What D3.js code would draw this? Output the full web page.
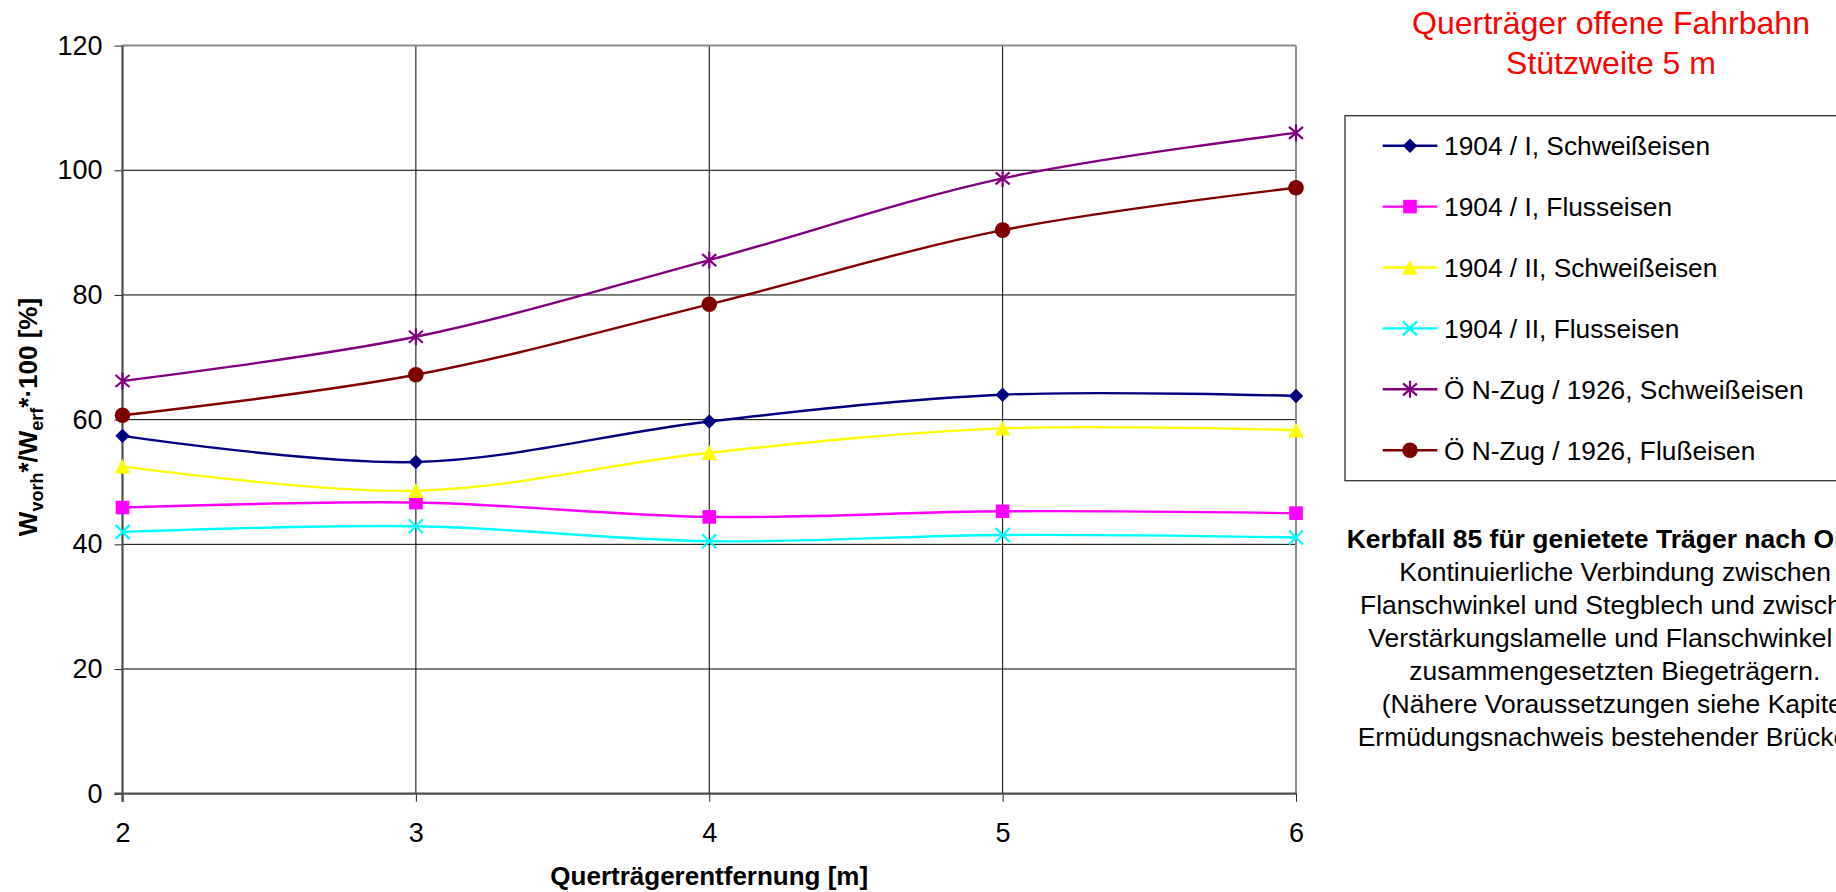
<!DOCTYPE html>
<html>
<head>
<meta charset="utf-8">
<script src="https://cdn.jsdelivr.net/npm/d3@7/dist/d3.min.js"></script>
<style>
  html, body { margin: 0; padding: 0; background: #fff; overflow: hidden; }
  svg { display: block; font-family: "Liberation Sans", Arial, Helvetica, sans-serif; }
</style>
</head>
<body>
<script>
// ---------------- data ----------------
const categories = [2, 3, 4, 5, 6];
const s1904I_Schweiss  = [57.4, 53.2, 59.7, 64.0, 63.8];
const s1904I_Fluss     = [45.9, 46.7, 44.4, 45.3, 45.0];
const s1904II_Schweiss = [52.5, 48.6, 54.7, 58.6, 58.3];
const s1904II_Fluss    = [42.0, 42.9, 40.5, 41.5, 41.1];
const sNZug_Schweiss   = [66.2, 73.3, 85.6, 98.7, 106.0];
const sNZug_Fluss      = [60.7, 67.2, 78.5, 90.4, 97.2];
const seriesNames = [
  "1904 / I, Schweißeisen",
  "1904 / I, Flusseisen",
  "1904 / II, Schweißeisen",
  "1904 / II, Flusseisen",
  "Ö N-Zug / 1926, Schweißeisen",
  "Ö N-Zug / 1926, Flußeisen"
];
const yTickValues = [0, 20, 40, 60, 80, 100, 120];
const xTickValues = [2, 3, 4, 5, 6];
const titleLines = ["Querträger offene Fahrbahn", "Stützweite 5 m"];
const xAxisTitle = "Querträgerentfernung [m]";
const noteLines = [
  "Kerbfall 85 für genietete Träger nach ONR 24008:",
  "Kontinuierliche Verbindung zwischen",
  "Flanschwinkel und Stegblech und zwischen",
  "Verstärkungslamelle und Flanschwinkel bei",
  "zusammengesetzten Biegeträgern.",
  "(Nähere Voraussetzungen siehe Kapitel",
  "Ermüdungsnachweis bestehender Brücken)"
];

// ---------------- styles ----------------
const seriesValues = [s1904I_Schweiss, s1904I_Fluss, s1904II_Schweiss, s1904II_Fluss, sNZug_Schweiss, sNZug_Fluss];
const seriesColors = ["#000080", "#FF00FF", "#FFFF00", "#00FFFF", "#800080", "#800000"];
const seriesMarkers = ["diamond", "square", "triangle", "x", "star", "circle"];

const W = 1836, H = 892;
const svg = d3.select("body").append("svg").attr("width", W).attr("height", H);

const plot = { left: 122.5, right: 1296, top: 45.6, bottom: 793.7 };
const x = d3.scaleLinear().domain([2, 6]).range([plot.left, plot.right]);
const y = d3.scaleLinear().domain([0, 120]).range([plot.bottom, plot.top]);

// gridlines
const grid = svg.append("g");
grid.selectAll("line.h").data(yTickValues.filter(v => v > 0 && v < 120)).enter().append("line")
  .attr("x1", plot.left).attr("x2", plot.right)
  .attr("y1", d => y(d)).attr("y2", d => y(d))
  .attr("stroke", "#000").attr("stroke-width", 1);
grid.selectAll("line.v").data(xTickValues.filter(v => v > 2 && v < 6)).enter().append("line")
  .attr("x1", d => x(d)).attr("x2", d => x(d))
  .attr("y1", plot.top).attr("y2", plot.bottom)
  .attr("stroke", "#000").attr("stroke-width", 1);

// plot border top / right
svg.append("line").attr("x1", plot.left).attr("x2", plot.right).attr("y1", plot.top).attr("y2", plot.top)
  .attr("stroke", "#8c8c8c").attr("stroke-width", 2);
svg.append("line").attr("x1", plot.right).attr("x2", plot.right).attr("y1", plot.top).attr("y2", plot.bottom)
  .attr("stroke", "#8c8c8c").attr("stroke-width", 2);

// axes
const yAxis = d3.axisLeft(y).tickValues(yTickValues).tickSize(8).tickPadding(12).tickFormat(d3.format("d"));
const gy = svg.append("g").attr("transform", `translate(${plot.left},0)`).call(yAxis);
gy.select(".domain").remove();
gy.selectAll(".tick line").attr("stroke", "#222").attr("stroke-width", 1);
gy.selectAll(".tick text").attr("font-size", 27).attr("fill", "#000")
  .attr("font-family", "'Liberation Sans', Arial, sans-serif");

const xAxis = d3.axisBottom(x).tickValues(xTickValues).tickSize(8).tickPadding(21).tickFormat(d3.format("d"));
const gx = svg.append("g").attr("transform", `translate(0,${plot.bottom})`).call(xAxis);
gx.select(".domain").remove();
gx.selectAll(".tick line").attr("stroke", "#222").attr("stroke-width", 1);
gx.selectAll(".tick text").attr("font-size", 27).attr("fill", "#000")
  .attr("font-family", "'Liberation Sans', Arial, sans-serif");

// axis lines (drawn over gridlines)
svg.append("line").attr("x1", plot.left).attr("x2", plot.left).attr("y1", plot.top).attr("y2", plot.bottom + 8)
  .attr("stroke", "#4d4d4d").attr("stroke-width", 2.2);
svg.append("line").attr("x1", plot.left - 8).attr("x2", plot.right).attr("y1", plot.bottom).attr("y2", plot.bottom)
  .attr("stroke", "#4d4d4d").attr("stroke-width", 2.2);

// ---------------- markers ----------------
function drawMarker(g, type, color) {
  switch (type) {
    case "diamond":
      g.append("path").attr("d", "M0,-7.2L7.2,0L0,7.2L-7.2,0Z").attr("fill", color);
      break;
    case "square":
      g.append("rect").attr("x", -6.8).attr("y", -6.8).attr("width", 13.6).attr("height", 13.6).attr("fill", color);
      break;
    case "triangle":
      g.append("path").attr("d", "M0,-7.6L7.6,7.2L-7.6,7.2Z").attr("fill", color);
      break;
    case "circle":
      g.append("circle").attr("r", 7.8).attr("fill", color);
      break;
    case "x":
      g.append("path").attr("d", "M-7,-7L7,7M-7,7L7,-7").attr("stroke", color).attr("stroke-width", 2.2).attr("fill", "none");
      break;
    case "star":
      g.append("path").attr("d", "M-7,-6L7,6M-7,6L7,-6M0,-8.5L0,8.5").attr("stroke", color).attr("stroke-width", 2.2).attr("fill", "none");
      break;
  }
}

// ---------------- series ----------------
const line = d3.line().x(d => x(d.x)).y(d => y(d.y)).curve(d3.curveCardinal.tension(0));
seriesValues.forEach((vals, i) => {
  const pts = categories.map((c, k) => ({ x: c, y: vals[k] }));
  const g = svg.append("g");
  g.append("path").datum(pts).attr("d", line)
    .attr("fill", "none").attr("stroke", seriesColors[i]).attr("stroke-width", 2.4);
  pts.forEach(p => {
    drawMarker(g.append("g").attr("transform", `translate(${x(p.x)},${y(p.y)})`), seriesMarkers[i], seriesColors[i]);
  });
});

// ---------------- axis titles ----------------
svg.append("text").attr("x", (plot.left + plot.right) / 2).attr("y", 885)
  .attr("text-anchor", "middle").attr("font-size", 26).attr("font-weight", "bold").text(xAxisTitle);

const yt = svg.append("text").attr("transform", `translate(37,417) rotate(-90)`)
  .attr("text-anchor", "middle").attr("font-size", 26).attr("font-weight", "bold");
yt.append("tspan").text("W");
yt.append("tspan").attr("font-size", 18).attr("dy", 6).text("vorh");
yt.append("tspan").attr("dy", -6).text("*/W");
yt.append("tspan").attr("font-size", 18).attr("dy", 6).text("erf");
yt.append("tspan").attr("dy", -6).text("*·100 [%]");

// ---------------- chart title ----------------
svg.selectAll("text.title").data(titleLines).enter().append("text")
  .attr("x", 1611).attr("y", (d, i) => 33.5 + i * 40)
  .attr("text-anchor", "middle").attr("font-size", 32).attr("fill", "#FF0000").text(d => d);

// ---------------- legend ----------------
svg.append("rect").attr("x", 1345).attr("y", 115.7).attr("width", 520).attr("height", 365)
  .attr("fill", "#fff").attr("stroke", "#333").attr("stroke-width", 1.3);
seriesNames.forEach((name, i) => {
  const cy = 145.7 + i * 60.9;
  const g = svg.append("g");
  g.append("line").attr("x1", 1382.7).attr("x2", 1437.3).attr("y1", cy).attr("y2", cy)
    .attr("stroke", seriesColors[i]).attr("stroke-width", 2.4);
  drawMarker(g.append("g").attr("transform", `translate(1410,${cy})`), seriesMarkers[i], seriesColors[i]);
  g.append("text").attr("x", 1444).attr("y", cy).attr("dy", "0.36em")
    .attr("font-size", 26.3).attr("fill", "#000").text(name);
});

// ---------------- note ----------------
const noteX = [1346.7, 1399.3, 1360, 1368.3, 1409.3, 1381.7, 1357.7];
noteLines.forEach((t, i) => {
  svg.append("text").attr("x", noteX[i]).attr("y", 548.3 + i * 33)
    .attr("font-size", 26.5).attr("font-weight", i === 0 ? "bold" : "normal").attr("fill", "#000").text(t);
});
</script>
</body>
</html>
